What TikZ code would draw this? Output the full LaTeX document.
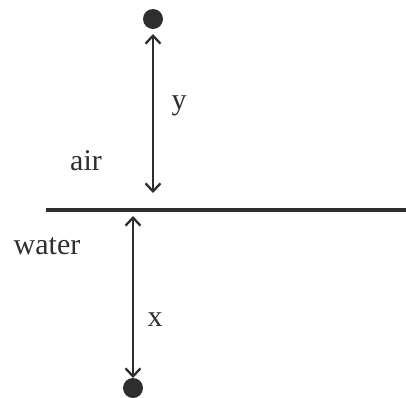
\documentclass[tikz,border=0pt]{standalone}
\usepackage{fontspec}
\setmainfont{Liberation Serif}
\usetikzlibrary{arrows.meta}
\definecolor{ink}{HTML}{2E2E2E}
\begin{document}
\begin{tikzpicture}[x=1pt,y=-1pt,
  dot/.style={circle,fill=ink,inner sep=0pt,minimum size=20pt},
  lbl/.style={text=ink,font=\fontsize{30}{33}\selectfont,inner sep=0pt},
  dimarrow/.style={draw=ink,line width=2.3pt,{Straight Barb[length=8pt,width=15pt]}-{Straight Barb[length=8pt,width=15pt]}},
  surface/.style={draw=ink,line width=3.3pt}]
\useasboundingbox (0,0) rectangle (406,397);
\node[dot] (top) at (153,19) {};
\node[dot] (bot) at (133,388) {};
\coordinate (L) at (46,210);
\coordinate (R) at (406,210);
\coordinate (ya) at (153,34);
\coordinate (yb) at (153,193);
\coordinate (xa) at (133,216);
\coordinate (xb) at (133,378);
\draw[surface] (L) -- (R);
\draw[dimarrow] (ya) -- (yb);
\draw[dimarrow] (xa) -- (xb);
\node[lbl] (ylab) at (179,106) {y};
\node[lbl] (air) at (86,161) {air};
\node[lbl] (water) at (47,246) {water};
\node[lbl] (xlab) at (155,320) {x};
\end{tikzpicture}
\end{document}
